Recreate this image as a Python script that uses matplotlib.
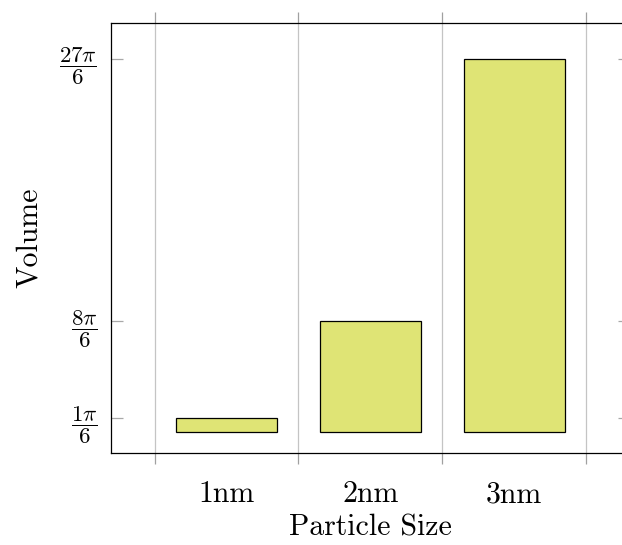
import numpy as np
import matplotlib
matplotlib.use("Agg")
import matplotlib.pyplot as plt

plt.rcParams["font.family"] = "cmr10"
plt.rcParams["mathtext.fontset"] = "cm"
plt.rcParams["axes.formatter.use_mathtext"] = True

# Particle sizes and their volumes, in units of pi/6 (d^3 * pi / 6)
categories = ["1nm", "2nm", "3nm"]
volume_numerators = [1, 8, 27]
volumes = [n * np.pi / 6 for n in volume_numerators]
ytick_labels = [r"$\dfrac{%d\pi}{6}$" % n for n in volume_numerators]

fig = plt.figure(figsize=(6.22, 5.45), dpi=100)
ax = fig.add_axes([0.1785, 0.1688, 0.835, 0.789])

x = np.arange(1, len(categories) + 1)
ax.bar(x, volumes, width=0.70, color="#dfe475", edgecolor="black", linewidth=0.9, zorder=3)

ax.set_xlim(0.197, 3.807)
ax.set_ylim(-0.81, 15.5)

# category labels at bar centres, separators (grid) between categories
ax.set_xticks(x)
ax.set_xticklabels(categories, fontsize=21.5)
ax.tick_params(axis="x", which="major", length=0, pad=20)
ax.set_xticks(np.arange(0.5, len(categories) + 1.5, 1.0), minor=True)
ax.tick_params(axis="x", which="minor", direction="out", length=8, width=0.9,
               color="#a0a0a0", top=True, bottom=True)
ax.grid(True, axis="x", which="minor", color="#c4c4c4", linewidth=0.9, zorder=0)

ax.set_yticks(volumes)
ax.set_yticklabels(ytick_labels, fontsize=16.5)
ax.tick_params(axis="y", direction="in", length=8.5, width=0.9, color="#a8a8a8",
               left=True, right=True, pad=10)

for s in ax.spines.values():
    s.set_linewidth(0.9)
    s.set_color("black")

ax.set_xlabel("Particle Size", fontsize=21.5, labelpad=4)
ax.set_ylabel("Volume", fontsize=21.5, labelpad=12)

fig.savefig("out.png", dpi=100)
